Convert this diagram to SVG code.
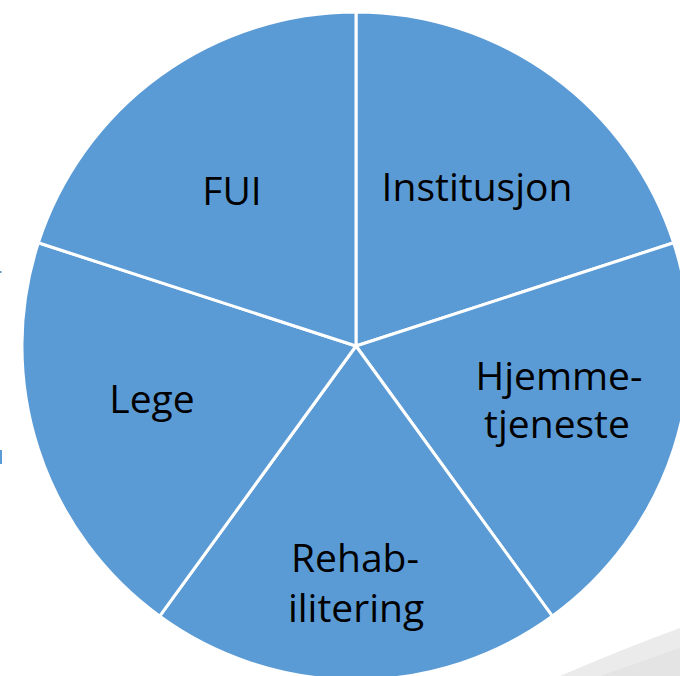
<svg xmlns="http://www.w3.org/2000/svg" width="680" height="676" viewBox="0 0 680 676">
<style>
.slice{fill:#5b9bd5;stroke:#ffffff;stroke-width:3;stroke-linejoin:round}
.lbl{font-family:"Open Sans","Liberation Sans",sans-serif;font-size:39px;fill:#000000;text-anchor:middle}
</style>
<rect width="680" height="676" fill="#ffffff"/>
<path d="M560,676 Q620,650 680,628 L680,676 Z" fill="#ebebeb"/>
<path d="M600,676 Q640,662 680,648 L680,676 Z" fill="#e4e4e4"/>
<rect x="0" y="271" width="1.5" height="2" fill="#5b9bd5"/>
<rect x="0" y="450" width="2" height="14" fill="#5b9bd5"/>
<g id="institusjon">
<path class="slice" d="M356,346 L356,12 A334,334 0 0 1 673.7,242.8 Z"/>
<text class="lbl" x="477" y="201">Institusjon</text>
</g>
<g id="hjemmetjeneste">
<path class="slice" d="M356,346 L673.7,242.8 A334,334 0 0 1 552.3,616.2 Z"/>
<text class="lbl" x="559" y="390">Hjemme-</text>
<text class="lbl" x="557" y="438">tjeneste</text>
</g>
<g id="rehabilitering">
<path class="slice" d="M356,346 L552.3,616.2 A334,334 0 0 1 159.7,616.2 Z"/>
<text class="lbl" x="355" y="572">Rehab-</text>
<text class="lbl" x="356" y="622">ilitering</text>
</g>
<g id="lege">
<path class="slice" d="M356,346 L159.7,616.2 A334,334 0 0 1 38.3,242.8 Z"/>
<text class="lbl" x="152" y="413">Lege</text>
</g>
<g id="fui">
<path class="slice" d="M356,346 L38.3,242.8 A334,334 0 0 1 356,12 Z"/>
<text class="lbl" x="232" y="205">FUI</text>
</g>
</svg>
